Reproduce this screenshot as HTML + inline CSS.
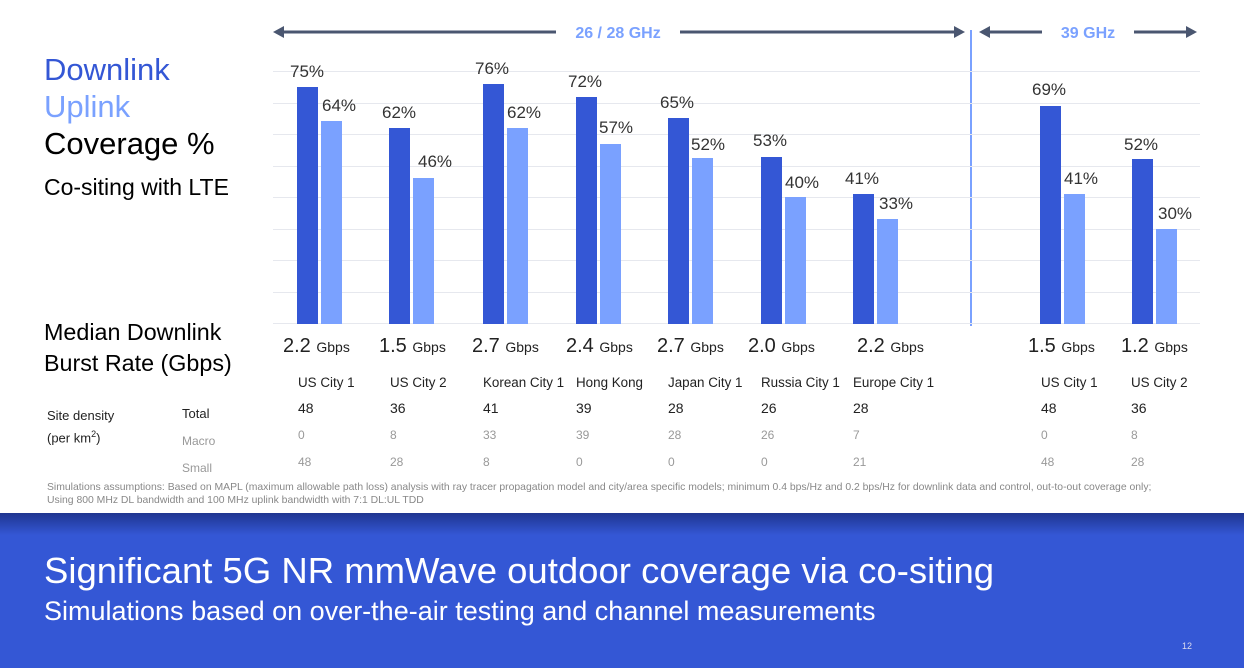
<!DOCTYPE html><html><head><style>
body{margin:0;width:1244px;height:668px;position:relative;background:#fff;font-family:"Liberation Sans",sans-serif;overflow:hidden}
.a{position:absolute;white-space:nowrap}
.g{position:absolute;left:273px;width:927px;height:1px;background:#e6e8ee}
.d{position:absolute;width:21px;background:#3457d5}
.u{position:absolute;width:21px;background:#7aa1ff}
.p{position:absolute;font-size:17px;color:#333;white-space:nowrap}
.r{font-size:20px;color:#222}
.r small{font-size:14px}
.c{font-size:13.4px;color:#222}
.n{font-size:14px;color:#222}
.m{font-size:12px;color:#999}
</style></head><body>
<div class="a" style="left:44px;top:52px;font-size:31px;color:#3457d5">Downlink</div>
<div class="a" style="left:44px;top:89px;font-size:31px;color:#7aa1ff">Uplink</div>
<div class="a" style="left:44px;top:126px;font-size:31px;color:#000">Coverage %</div>
<div class="a" style="left:44px;top:174px;font-size:23px;color:#000">Co-siting with LTE</div>
<div class="a" style="left:44px;top:317px;font-size:23.3px;color:#000;line-height:31px">Median Downlink<br>Burst Rate (Gbps)</div>
<svg class="a" style="left:0;top:0" width="1244" height="330">
<line x1="280" y1="32" x2="556" y2="32" stroke="#4a5670" stroke-width="3"/><polygon points="273,32 284,26 284,38" fill="#4a5670"/>
<line x1="680" y1="32" x2="958" y2="32" stroke="#4a5670" stroke-width="3"/><polygon points="965,32 954,26 954,38" fill="#4a5670"/>
<line x1="986" y1="32" x2="1042" y2="32" stroke="#4a5670" stroke-width="3"/><polygon points="979,32 990,26 990,38" fill="#4a5670"/>
<line x1="1134" y1="32" x2="1190" y2="32" stroke="#4a5670" stroke-width="3"/><polygon points="1197,32 1186,26 1186,38" fill="#4a5670"/>
<text x="618" y="38" text-anchor="middle" font-size="16" font-weight="bold" fill="#7aa1ff" font-family="Liberation Sans">26 / 28 GHz</text>
<text x="1088" y="38" text-anchor="middle" font-size="16" font-weight="bold" fill="#7aa1ff" font-family="Liberation Sans">39 GHz</text>
<line x1="971" y1="30" x2="971" y2="326" stroke="#7aa1ff" stroke-width="2"/>
</svg>
<div class="g" style="top:71px"></div><div class="g" style="top:103px"></div><div class="g" style="top:134px"></div><div class="g" style="top:166px"></div><div class="g" style="top:197px"></div><div class="g" style="top:229px"></div><div class="g" style="top:260px"></div><div class="g" style="top:292px"></div><div class="g" style="top:323px"></div>
<div class="d" style="left:297px;top:87px;height:237px"></div><div class="u" style="left:321px;top:121px;height:203px"></div>
<div class="d" style="left:389px;top:128px;height:196px"></div><div class="u" style="left:413px;top:178px;height:146px"></div>
<div class="d" style="left:483px;top:84px;height:240px"></div><div class="u" style="left:507px;top:128px;height:196px"></div>
<div class="d" style="left:576px;top:97px;height:227px"></div><div class="u" style="left:600px;top:144px;height:180px"></div>
<div class="d" style="left:668px;top:118px;height:206px"></div><div class="u" style="left:692px;top:158px;height:166px"></div>
<div class="d" style="left:761px;top:157px;height:167px"></div><div class="u" style="left:785px;top:197px;height:127px"></div>
<div class="d" style="left:853px;top:194px;height:130px"></div><div class="u" style="left:877px;top:219px;height:105px"></div>
<div class="d" style="left:1040px;top:106px;height:218px"></div><div class="u" style="left:1064px;top:194px;height:130px"></div>
<div class="d" style="left:1132px;top:159px;height:165px"></div><div class="u" style="left:1156px;top:229px;height:95px"></div>
<div class="p" style="left:290px;top:62px">75%</div><div class="p" style="left:322px;top:96px">64%</div>
<div class="p" style="left:382px;top:103px">62%</div><div class="p" style="left:418px;top:152px">46%</div>
<div class="p" style="left:475px;top:59px">76%</div><div class="p" style="left:507px;top:103px">62%</div>
<div class="p" style="left:568px;top:72px">72%</div><div class="p" style="left:599px;top:118px">57%</div>
<div class="p" style="left:660px;top:93px">65%</div><div class="p" style="left:691px;top:135px">52%</div>
<div class="p" style="left:753px;top:131px">53%</div><div class="p" style="left:785px;top:173px">40%</div>
<div class="p" style="left:845px;top:169px">41%</div><div class="p" style="left:879px;top:194px">33%</div>
<div class="p" style="left:1032px;top:80px">69%</div><div class="p" style="left:1064px;top:169px">41%</div>
<div class="p" style="left:1124px;top:135px">52%</div><div class="p" style="left:1158px;top:204px">30%</div>
<div class="a r" style="left:283px;top:335px">2.2 <small>Gbps</small></div>
<div class="a r" style="left:379px;top:335px">1.5 <small>Gbps</small></div>
<div class="a r" style="left:472px;top:335px">2.7 <small>Gbps</small></div>
<div class="a r" style="left:566px;top:335px">2.4 <small>Gbps</small></div>
<div class="a r" style="left:657px;top:335px">2.7 <small>Gbps</small></div>
<div class="a r" style="left:748px;top:335px">2.0 <small>Gbps</small></div>
<div class="a r" style="left:857px;top:335px">2.2 <small>Gbps</small></div>
<div class="a r" style="left:1028px;top:335px">1.5 <small>Gbps</small></div>
<div class="a r" style="left:1121px;top:335px">1.2 <small>Gbps</small></div>
<div class="a c" style="left:298px;top:375px">US City 1</div><div class="a c" style="left:390px;top:375px">US City 2</div><div class="a c" style="left:483px;top:375px">Korean City 1</div><div class="a c" style="left:576px;top:375px">Hong Kong</div><div class="a c" style="left:668px;top:375px">Japan City 1</div><div class="a c" style="left:761px;top:375px">Russia City 1</div><div class="a c" style="left:853px;top:375px">Europe City 1</div><div class="a c" style="left:1041px;top:375px">US City 1</div><div class="a c" style="left:1131px;top:375px">US City 2</div>
<div class="a" style="left:47px;top:406px;font-size:13px;color:#222;line-height:19px">Site density<br>(per km<sup style="font-size:9px">2</sup>)</div>
<div class="a" style="left:182px;top:406px;font-size:13px;color:#222">Total</div>
<div class="a m" style="left:182px;top:434px">Macro</div>
<div class="a m" style="left:182px;top:461px">Small</div>
<div class="a n" style="left:298px;top:400px">48</div><div class="a n" style="left:390px;top:400px">36</div><div class="a n" style="left:483px;top:400px">41</div><div class="a n" style="left:576px;top:400px">39</div><div class="a n" style="left:668px;top:400px">28</div><div class="a n" style="left:761px;top:400px">26</div><div class="a n" style="left:853px;top:400px">28</div><div class="a n" style="left:1041px;top:400px">48</div><div class="a n" style="left:1131px;top:400px">36</div>
<div class="a m" style="left:298px;top:428px">0</div><div class="a m" style="left:390px;top:428px">8</div><div class="a m" style="left:483px;top:428px">33</div><div class="a m" style="left:576px;top:428px">39</div><div class="a m" style="left:668px;top:428px">28</div><div class="a m" style="left:761px;top:428px">26</div><div class="a m" style="left:853px;top:428px">7</div><div class="a m" style="left:1041px;top:428px">0</div><div class="a m" style="left:1131px;top:428px">8</div>
<div class="a m" style="left:298px;top:455px">48</div><div class="a m" style="left:390px;top:455px">28</div><div class="a m" style="left:483px;top:455px">8</div><div class="a m" style="left:576px;top:455px">0</div><div class="a m" style="left:668px;top:455px">0</div><div class="a m" style="left:761px;top:455px">0</div><div class="a m" style="left:853px;top:455px">21</div><div class="a m" style="left:1041px;top:455px">48</div><div class="a m" style="left:1131px;top:455px">28</div>
<div class="a" style="left:47px;top:481px;font-size:10.4px;color:#888;line-height:13px">Simulations assumptions: Based on MAPL (maximum allowable path loss) analysis with ray tracer propagation model and city/area specific models; minimum 0.4 bps/Hz and 0.2 bps/Hz for downlink data and control, out-to-out coverage only;<br>Using 800 MHz DL bandwidth and 100 MHz uplink bandwidth with 7:1 DL:UL TDD</div>
<div class="a" style="left:0;top:513px;width:1244px;height:155px;background:linear-gradient(#1f3590 0px,#3457d5 22px,#3457d5 100%)"></div>
<div class="a" style="left:44px;top:550px;font-size:36.5px;color:#fff">Significant 5G NR mmWave outdoor coverage via co-siting</div>
<div class="a" style="left:44px;top:596px;font-size:27px;color:#fff">Simulations based on over-the-air testing and channel measurements</div>
<div class="a" style="left:1182px;top:641px;font-size:9px;color:#dde">12</div>
</body></html>
